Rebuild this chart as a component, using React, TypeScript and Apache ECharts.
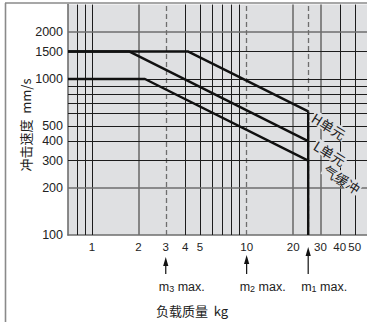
import React, { useEffect, useRef } from "react";
import * as echarts from "echarts";

const xTickLabels = [1, 2, 3, 4, 5, 10, 20, 30, 40, 50];
const yTickLabels = [100, 200, 300, 400, 500, 1000, 1500, 2000];
const xGridDark = [0.8, 0.9, 1, 4, 5, 6, 7, 8, 9, 40, 50];
const xGridGray = [2, 20, 30];
const xGridDashed = [3, 10, 25];
const yGridDark = [300, 400, 500, 600, 700, 800, 900, 1000, 1500];
const yGridGray = [200, 2000];
const hUnit = [[0.7, 1500], [4.2, 1500], [25, 620]];
const lUnit = [[0.7, 1500], [1.75, 1500], [25, 400]];
const airCushion = [[0.7, 1000], [2.2, 1000], [25, 300]];
const m1Limit = [[25, 620], [25, 100]];
const maxMarks = [
  { mass: 3, sub: "3", tipY: 257 },
  { mass: 10, sub: "2", tipY: 255 },
  { mass: 25, sub: "1", tipY: 247 },
];
const unitLabels = [
  { text: "H单元", x: 329, y: 126 },
  { text: "L单元", x: 330, y: 153 },
  { text: "气缓冲", x: 342, y: 179 },
];

const BG = "#dfe0e2";
const DARK = "#1c1c1c";
const GRAY = "#6e6e6e";

export default function App() {
  const ref = useRef<HTMLDivElement>(null);
  useEffect(() => {
    const chart = echarts.init(ref.current!, null, { renderer: "svg" });
    const gridLines: any[] = [];
    xGridDark.forEach((v) => gridLines.push({ xAxis: v, lineStyle: { color: DARK, width: 1, type: "solid" } }));
    xGridGray.forEach((v) => gridLines.push({ xAxis: v, lineStyle: { color: GRAY, width: 1.6, type: "solid" } }));
    xGridDashed.forEach((v) => gridLines.push({ xAxis: v, lineStyle: { color: GRAY, width: 1.3, type: [5, 3] } }));
    yGridDark.forEach((v) => gridLines.push({ yAxis: v, lineStyle: { color: DARK, width: 1, type: "solid" } }));
    yGridGray.forEach((v) => gridLines.push({ yAxis: v, lineStyle: { color: GRAY, width: 1.6, type: "solid" } }));

    const lineSeries = (name: string, data: number[][]) => ({
      name,
      type: "line",
      data,
      symbol: "none",
      z: 5,
      lineStyle: { color: "#111", width: 2.4 },
      silent: true,
    });

    chart.setOption({
      animation: false,
      backgroundColor: "#fff",
      grid: { left: 68, right: 0, top: 4.6, bottom: 87, show: true, backgroundColor: BG, borderWidth: 0 },
      xAxis: {
        type: "log",
        logBase: 10,
        min: 0.7,
        max: 60,
        axisLine: { show: true, lineStyle: { color: GRAY, width: 1.6 } },
        axisTick: { show: false },
        splitLine: { show: false },
        minorSplitLine: { show: false },
        axisLabel: {
          customValues: xTickLabels,
          formatter: (v: number) => String(Math.round(v)),
          margin: 6,
          fontSize: 11.5,
          color: "#222",
          fontFamily: "Liberation Sans, Arial, sans-serif",
        },
      },
      yAxis: {
        type: "log",
        logBase: 10,
        min: 100,
        max: 3000,
        axisLine: { show: true, lineStyle: { color: GRAY, width: 1.6 } },
        axisTick: { show: false },
        splitLine: { show: false },
        axisLabel: {
          customValues: yTickLabels,
          formatter: (v: number) => String(Math.round(v)),
          margin: 5,
          fontSize: 12.5,
          color: "#222",
          fontFamily: "Liberation Sans, Arial, sans-serif",
        },
      },
      series: [
        {
          name: "grid",
          type: "line",
          data: [],
          z: 1,
          silent: true,
          markLine: {
            silent: true,
            symbol: "none",
            label: { show: false },
            animation: false,
            data: gridLines,
          },
        },
        lineSeries("H单元", hUnit),
        lineSeries("L单元", lUnit),
        lineSeries("气缓冲", airCushion),
        lineSeries("m1", m1Limit),
      ],
    });

    const graphics: any[] = [];
    graphics.push({ type: "line", shape: { x1: 5.5, y1: 3, x2: 5.5, y2: 322 }, style: { stroke: "#8a8a8a", lineWidth: 1.6 } });
    graphics.push({ type: "line", shape: { x1: 5, y1: 3, x2: 367, y2: 3 }, style: { stroke: "#8a8a8a", lineWidth: 1.6 } });
    maxMarks.forEach((m) => {
      const px = chart.convertToPixel({ xAxisIndex: 0 }, m.mass) as number;
      graphics.push({ type: "line", shape: { x1: px, y1: m.tipY + 6, x2: px, y2: 274 }, style: { stroke: "#111", lineWidth: 1.2 } });
      graphics.push({
        type: "polygon",
        shape: { points: [[px, m.tipY], [px - 2.6, m.tipY + 9], [px + 2.6, m.tipY + 9]] },
        style: { fill: "#111" },
      });
      graphics.push({
        type: "text",
        x: px - 7,
        y: 287,
        style: {
          text: "{a|m}{b|" + m.sub + "}{a| max.}",
          verticalAlign: "middle",
          align: "left",
          rich: {
            a: { fontSize: 12.5, fill: "#222", fontFamily: "Liberation Sans, Arial, sans-serif" },
            b: { fontSize: 9, fill: "#222", fontFamily: "Liberation Sans, Arial, sans-serif", verticalAlign: "bottom" },
          },
        },
      });
    });
    unitLabels.forEach((u) => {
      graphics.push({
        type: "text",
        x: u.x,
        y: u.y,
        rotation: -0.56,
        z: 10,
        style: {
          text: u.text,
          align: "center",
          verticalAlign: "middle",
          fontSize: 13.5,
          fill: "#222",
          fontFamily: "Noto Sans CJK SC, sans-serif",
          backgroundColor: BG,
          padding: [0, 1],
        },
      });
    });
    graphics.push({
      type: "text",
      x: 192,
      y: 310,
      style: {
        text: "负载质量  kg",
        align: "center",
        verticalAlign: "middle",
        fontSize: 13,
        fill: "#222",
        fontFamily: "Noto Sans CJK SC, sans-serif",
      },
    });
    graphics.push({
      type: "text",
      x: 25,
      y: 125,
      rotation: Math.PI / 2,
      style: {
        text: "冲击速度  mm/s",
        align: "center",
        verticalAlign: "middle",
        fontSize: 13,
        fill: "#222",
        fontFamily: "Noto Sans CJK SC, sans-serif",
      },
    });
    chart.setOption({ graphic: graphics });

    return () => chart.dispose();
  }, []);
  return <div ref={ref} style={{ position: "fixed", left: 0, top: 0, width: 367, height: 322 }} />;
}
